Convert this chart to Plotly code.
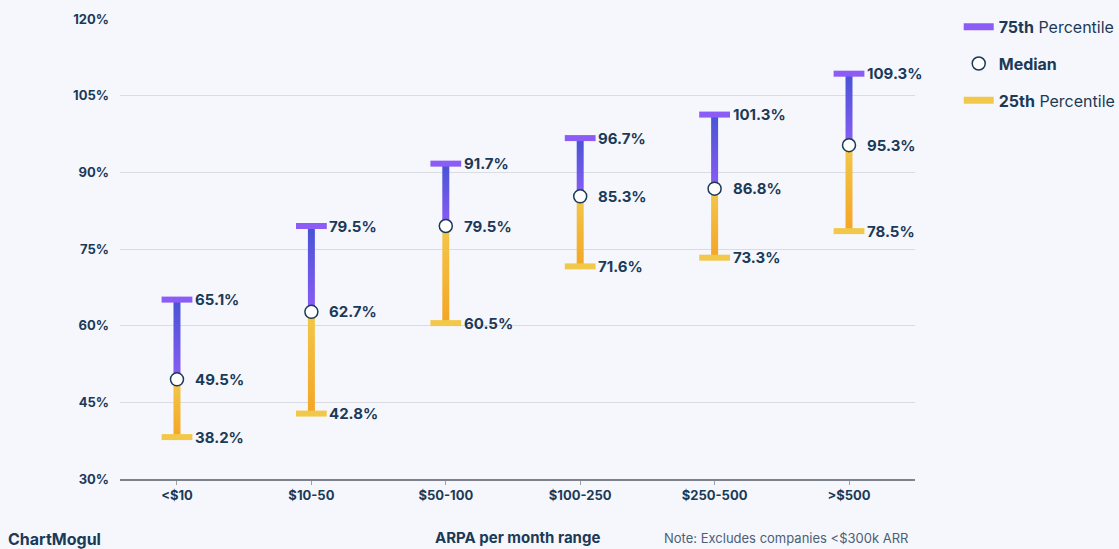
import plotly.graph_objects as go

categories = ["<$10", "$10-50", "$50-100", "$100-250", "$250-500", ">$500"]
p75 = [65.1, 79.5, 91.7, 96.7, 101.3, 109.3]
median = [49.5, 62.7, 79.5, 85.3, 86.8, 95.3]
p25 = [38.2, 42.8, 60.5, 71.6, 73.3, 78.5]
y_ticks = [30, 45, 60, 75, 90, 105, 120]

NAVY = "#1B3A57"
PURPLE = "#8B5CF6"
BLUE_TOP = "#4654D4"
YELLOW = "#F2C84B"
ORANGE = "#F5A524"
BG = "#F6F7FD"
FONT = "Inter"

xs = list(range(len(categories)))
half_w = 0.026  # half-width of the vertical bars in axis units

fig = go.Figure()

def seg(i, lo, hi, bottom_col, top_col):
    fig.add_trace(go.Scatter(
        x=[i - half_w, i + half_w, i + half_w, i - half_w, i - half_w],
        y=[lo, lo, hi, hi, lo],
        mode="lines", line=dict(width=0),
        fill="toself",
        fillgradient=dict(type="vertical", colorscale=[[0, bottom_col], [1, top_col]]),
        showlegend=False, hoverinfo="skip",
    ))

for i in xs:
    seg(i, median[i], p75[i], PURPLE, BLUE_TOP)
    seg(i, p25[i], median[i], ORANGE, YELLOW)

# caps
fig.add_trace(go.Scatter(
    x=xs, y=p75, mode="markers",
    marker=dict(symbol="line-ew", size=22, line=dict(width=6, color=PURPLE)),
    showlegend=False, hoverinfo="skip"))
fig.add_trace(go.Scatter(
    x=xs, y=p25, mode="markers",
    marker=dict(symbol="line-ew", size=22, line=dict(width=6, color=YELLOW)),
    showlegend=False, hoverinfo="skip"))
# medians
fig.add_trace(go.Scatter(
    x=xs, y=median, mode="markers",
    marker=dict(symbol="circle", size=13, color="white", line=dict(width=1.5, color=NAVY)),
    showlegend=False, hoverinfo="skip"))

# legend entries
fig.add_trace(go.Scatter(x=[None], y=[None], mode="lines", name="<b>75th</b> Percentile",
                         line=dict(color=PURPLE, width=7), legendgroup="a"))
fig.add_trace(go.Scatter(x=[None], y=[None], mode="markers", name="<b>Median</b>",
                         marker=dict(symbol="circle", size=13, color="white",
                                     line=dict(width=1.5, color=NAVY)), legendgroup="b"))
fig.add_trace(go.Scatter(x=[None], y=[None], mode="lines", name="<b>25th</b> Percentile",
                         line=dict(color=YELLOW, width=7), legendgroup="c"))

annotations = []
for arr in (p75, median, p25):
    for i in xs:
        annotations.append(dict(
            x=i, y=arr[i], xref="x", yref="y", text=f"<b>{arr[i]:.1f}%</b>",
            showarrow=False, xanchor="left", yanchor="middle", xshift=16,
            font=dict(family=FONT, size=15, color=NAVY)))

annotations.append(dict(x=0.5, y=0, xref="paper", yref="paper", text="<b>ARPA per month range</b>",
                        showarrow=False, xanchor="center", yanchor="top", yshift=-47,
                        font=dict(family=FONT, size=15, color=NAVY)))
annotations.append(dict(x=0.9937, y=0, xref="paper", yref="paper",
                        text="Note: Excludes companies <$300k ARR",
                        showarrow=False, xanchor="right", yanchor="top", yshift=-49,
                        font=dict(family=FONT, size=13, color="#4B6076")))
annotations.append(dict(x=-0.1434, y=0, xref="paper", yref="paper", text="<b>ChartMogul</b>",
                        showarrow=False, xanchor="left", yanchor="top", yshift=-48,
                        font=dict(family=FONT, size=16, color=NAVY)))

fig.update_layout(
    width=1119, height=549,
    margin=dict(l=120, r=204, t=19, b=70, autoexpand=False),
    paper_bgcolor=BG, plot_bgcolor=BG,
    font=dict(family=FONT, color=NAVY),
    annotations=annotations,
    legend=dict(x=1.055, y=1.02, xanchor="left", yanchor="top",
                font=dict(family=FONT, size=16, color=NAVY),
                tracegroupgap=13, bgcolor="rgba(0,0,0,0)"),
    xaxis=dict(range=[-0.424, 5.491], tickvals=xs, ticktext=[f"<b>{c}</b>" for c in categories],
               showgrid=False, zeroline=False, showline=True, linecolor="#7E838B", linewidth=1.5,
               ticks="outside", ticklen=4, tickcolor="#9A9EA5",
               tickfont=dict(family=FONT, size=13, color=NAVY)),
    yaxis=dict(range=[30, 120], tickvals=y_ticks, ticktext=[f"<b>{v}%</b>" for v in y_ticks],
               showgrid=True, gridcolor="#DADCE2", gridwidth=1, zeroline=False,
               showline=False, ticks="", ticklabelstandoff=10,
               tickfont=dict(family=FONT, size=13, color=NAVY)),
)

fig.write_html("out.html", config={"displayModeBar": False},
               post_script="document.body.style.margin='0';document.body.style.overflow='hidden';")
